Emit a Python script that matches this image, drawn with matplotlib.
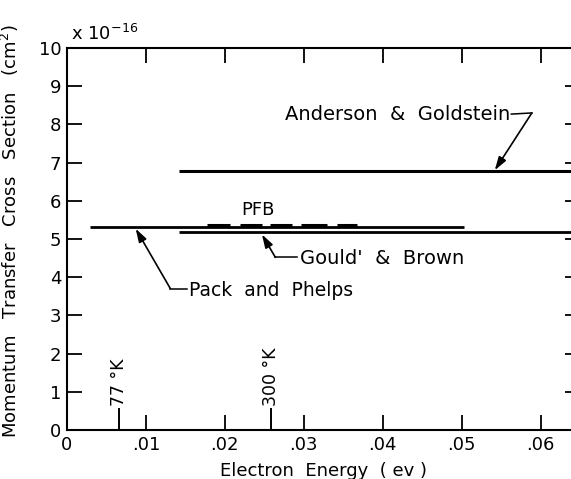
import matplotlib.pyplot as plt

# Donnees (energie en eV, section efficace en 1e-16 cm2)
anderson_x = [0.0142, 0.065]
anderson_y = [6.77, 6.77]

pack_x = [0.0029, 0.0503]
pack_y = [5.32, 5.32]

gould_x = [0.0142, 0.065]
gould_y = [5.18, 5.18]

# segments du trait PFB
pfb_debut = [0.0178, 0.0219, 0.0257, 0.0297, 0.0342]
pfb_fin = [0.0206, 0.0247, 0.0285, 0.0329, 0.0367]
pfb_y = 5.37

# kT a 77 K et a 300 K
temperatures = ["77 °K", "300 °K"]
energies_kT = [0.00664, 0.02585]

xticks = [0, 0.01, 0.02, 0.03, 0.04, 0.05, 0.06]
xlabels = ["0", ".01", ".02", ".03", ".04", ".05", ".06"]
yticks = list(range(0, 11))
ylabels = [str(v) for v in yticks]


def main():
    plt.rcParams["font.family"] = "DejaVu Sans"
    fig = plt.figure(figsize=(5.71, 4.79), dpi=100)
    ax = fig.add_axes([67 / 571, 49 / 479, 513 / 571, 382 / 479])

    ax.plot(anderson_x, anderson_y, color="black", lw=2.2, solid_capstyle="butt")
    ax.plot(pack_x, pack_y, color="black", lw=2.0, solid_capstyle="butt")
    ax.plot(gould_x, gould_y, color="black", lw=2.0, solid_capstyle="butt")
    for a, b in zip(pfb_debut, pfb_fin):
        ax.plot([a, b], [pfb_y, pfb_y], color="black", lw=2.2, solid_capstyle="butt")

    # reperes de temperature
    for nom, e in zip(temperatures, energies_kT):
        ax.plot([e, e], [0, 0.55], color="black", lw=1.4)
        ax.text(e, 0.62, nom, rotation=90, ha="center", va="bottom", fontsize=12.5)

    fl = dict(arrowstyle="-|>,head_length=0.8,head_width=0.25", color="black", lw=1.2,
              shrinkA=0, shrinkB=0)
    trait = dict(color="black", lw=1.1)

    # Anderson & Goldstein
    ax.text(0.0561, 8.25, "Anderson  &  Goldstein", ha="right", va="center", fontsize=14)
    ax.plot([0.0563, 0.0589], [8.27, 8.30], **trait)
    ax.annotate("", xy=(0.0542, 6.80), xytext=(0.0589, 8.30), arrowprops=fl)

    # PFB
    ax.text(0.0242, 5.52, "PFB", ha="center", va="bottom", fontsize=13)

    # Gould & Brown
    ax.text(0.0295, 4.50, "Gould'  &  Brown", ha="left", va="center", fontsize=14)
    ax.plot([0.0264, 0.0291], [4.52, 4.52], **trait)
    ax.annotate("", xy=(0.0247, 5.12), xytext=(0.0264, 4.52), arrowprops=fl)

    # Pack and Phelps
    ax.text(0.0155, 3.66, "Pack  and  Phelps", ha="left", va="center", fontsize=13.5)
    ax.plot([0.0131, 0.0152], [3.70, 3.70], **trait)
    ax.annotate("", xy=(0.0087, 5.27), xytext=(0.0131, 3.70), arrowprops=fl)

    ax.set_xlim(0, 0.065)
    ax.set_ylim(0, 10)
    ax.set_xticks(xticks)
    ax.set_xticklabels(xlabels)
    ax.set_yticks(yticks)
    ax.set_yticklabels(ylabels)
    ax.tick_params(direction="in", length=11, width=1.3, labelsize=13,
                   top=True, right=True, pad=4)
    for s in ax.spines.values():
        s.set_linewidth(1.5)

    ax.text(0.0005, 10.1, r"x 10$^{-16}$", ha="left", va="bottom", fontsize=13)
    ax.set_xlabel("Electron  Energy  ( ev )", fontsize=13, labelpad=6)
    ax.set_ylabel("Momentum   Transfer   Cross   Section   (cm$^2$)", fontsize=13)
    ax.yaxis.set_label_coords(-0.09, 0.52)

    fig.savefig("out.png", dpi=100)


if __name__ == "__main__":
    main()
